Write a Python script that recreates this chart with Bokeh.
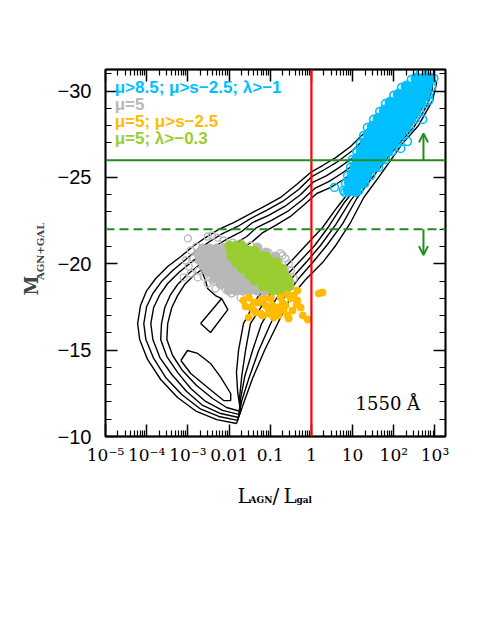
import math
from bokeh.plotting import figure
from bokeh.layouts import column, row
from bokeh.models import (Range1d, FixedTicker, CustomJSTickFormatter, LogAxis,
                          LinearAxis, Span, Label, Arrow, OpenHead)
from bokeh.embed import file_html
from bokeh.resources import INLINE

# ---------------- axis ticks ----------------
x_ticks = [1e-5, 1e-4, 1e-3, 1e-2, 1e-1, 1.0, 10.0, 100.0, 1000.0]
x_tick_labels = ["10⁻⁵", "10⁻⁴", "10⁻³", "0.01", "0.1", "1", "10", "10²", "10³"]
y_ticks = [-30, -25, -20, -15, -10]
y_tick_labels = ["−30", "−25", "−20", "−15", "−10"]

# ---------------- reference lines / arrows ----------------
lratio_cut = 1.0
m_bright = -26.0
m_faint = -22.0
arrow_lratio = 525.0
arrow_up_end = -27.55
arrow_down_end = -20.5

# ---------------- density contours (log10 L_AGN/L_gal, M) ----------------
c1_lx = [-1.82, -2.30, -2.79, -3.25, -3.66, -3.98, -4.17, -4.22, -4.15, -4.00, -3.78, -3.49, -3.17, -2.88,
         -2.57, -2.25, -1.89, -1.48, -1.11, -0.75, -0.36, -0.02, 0.27, 0.59, 0.95, 1.44, 2.00, 2.41, 2.70,
         2.89, 3.04, 2.94, 2.60, 2.21, 1.92, 1.63, 1.27, 0.95, 0.59, 0.27, -0.14, -0.51, -0.82, -1.14,
         -1.43, -1.65, -1.82]
c1_m = [-10.75, -10.98, -11.45, -12.26, -13.30, -14.46, -15.62, -16.54, -17.58, -18.45, -19.15, -19.84,
        -20.42, -21.00, -21.52, -21.99, -22.39, -22.91, -23.37, -23.84, -24.59, -25.29, -25.69, -26.15,
        -26.79, -27.95, -29.16, -29.92, -30.50, -30.84, -30.50, -29.45, -28.01, -26.96, -25.98, -25.00,
        -23.84, -22.39, -21.06, -20.07, -19.09, -18.05, -16.54, -14.98, -13.36, -11.91, -10.75]

c2_lx = [-1.79, -2.25, -2.71, -3.15, -3.54, -3.83, -4.02, -4.07, -4.00, -3.85, -3.64, -3.37, -3.08, -2.79,
         -2.47, -2.16, -1.79, -1.48, -1.09, -0.70, -0.31, 0.01, 0.32, 0.64, 1.00, 1.49, 2.04, 2.46, 2.75, 2.92,
         2.94, 2.82, 2.48, 2.09, 1.78, 1.46, 1.10, 0.76, 0.37, 0.05, -0.31, -0.68, -0.99, -1.28, -1.52,
         -1.69, -1.79]
c2_m = [-10.93, -11.16, -11.62, -12.43, -13.42, -14.52, -15.62, -16.54, -17.53, -18.28, -18.97, -19.61,
        -20.19, -20.77, -21.29, -21.75, -22.16, -22.62, -23.09, -23.61, -24.30, -25.05, -25.46, -25.92,
        -26.56, -27.72, -28.99, -29.74, -30.32, -30.61, -30.15, -29.22, -27.89, -26.85, -25.92, -24.94,
        -23.78, -22.33, -21.06, -20.13, -19.15, -17.99, -16.54, -14.98, -13.36, -12.08, -10.93]

c3_lx = [-1.77, -2.20, -2.64, -3.03, -3.39, -3.68, -3.85, -3.90, -3.83, -3.68, -3.49, -3.22, -2.93, -2.64,
         -2.35, -2.03, -1.69, -1.43, -1.04, -0.65, -0.26, 0.03, 0.37, 0.68, 1.05, 1.53, 2.09, 2.48, 2.77,
         2.85, 2.68, 2.34, 1.95, 1.63, 1.32, 0.95, 0.59, 0.22, -0.09, -0.46, -0.85, -1.21, -1.43, -1.62,
         -1.72, -1.77]
c3_m = [-11.10, -11.33, -11.80, -12.61, -13.59, -14.57, -15.62, -16.54, -17.47, -18.22, -18.86, -19.50,
        -20.07, -20.60, -21.00, -21.46, -21.87, -22.39, -22.80, -23.32, -24.01, -24.71, -25.11, -25.58,
        -26.21, -27.43, -28.76, -29.51, -30.09, -29.92, -28.99, -27.72, -26.68, -25.75, -24.82, -23.66,
        -22.27, -21.06, -20.19, -19.21, -17.99, -16.54, -14.98, -13.47, -12.20, -11.10]

c4_lx = [-1.74, -2.16, -2.57, -2.93, -3.25, -3.51, -3.66, -3.64, -3.56, -3.42, -3.25, -3.01, -2.74, -2.45,
         -2.16, -1.89, -1.57, -1.33, -0.97, -0.58, -0.21, 0.08, 0.42, 0.73, 1.10, 1.58, 2.14, 2.51, 2.75,
         2.55, 2.21, 1.83, 1.49, 1.17, 0.78, 0.42, 0.08, -0.24, -0.63, -1.09, -1.48, -1.60, -1.69, -1.74,
         -1.74]
c4_m = [-11.27, -11.51, -12.03, -12.78, -13.71, -14.63, -15.62, -16.54, -17.47, -18.22, -18.80, -19.38,
        -19.90, -20.36, -20.71, -21.12, -21.58, -22.10, -22.51, -23.03, -23.72, -24.36, -24.76, -25.23,
        -25.86, -27.08, -28.47, -29.22, -29.74, -28.76, -27.54, -26.50, -25.58, -24.65, -23.49, -22.16,
        -21.06, -20.25, -19.26, -17.99, -16.54, -14.98, -13.53, -12.37, -11.27]

c5_lx = [-1.72, -2.06, -2.40, -2.79, -3.13, -3.37, -3.51, -3.49, -3.39, -3.25, -3.08, -2.86, -2.59, -2.30,
         -1.99, -1.72, -1.43, -1.18, -0.87, -0.51, -0.17, 0.13, 0.47, 0.78, 1.15, 1.63, 2.17, 2.51, 2.68,
         2.43, 2.09, 1.70, 1.34, 1.00, 0.64, 0.27, -0.14, -0.43, -0.85, -1.31, -1.65, -1.77, -1.82, -1.79,
         -1.72]
c5_m = [-11.45, -11.68, -12.20, -12.95, -13.82, -14.69, -15.62, -16.54, -17.47, -18.16, -18.80, -19.32,
        -19.79, -20.19, -20.42, -20.83, -21.29, -21.81, -22.22, -22.74, -23.43, -24.07, -24.42, -24.88,
        -25.52, -26.73, -28.12, -28.88, -29.28, -28.47, -27.37, -26.33, -25.40, -24.42, -23.32, -22.10,
        -21.06, -20.31, -19.32, -18.05, -16.54, -14.98, -13.71, -12.55, -11.45]

isle1_lx = [-2.69, -2.45, -2.03, -2.18, -2.69]
isle1_m = [-16.54, -16.02, -17.35, -17.99, -16.54]
isle2_lx = [-3.17, -3.01, -2.76, -2.45, -2.20, -1.96, -1.96, -2.13, -2.52, -2.93, -3.17]
isle2_m = [-14.40, -14.98, -14.81, -14.23, -13.42, -12.49, -12.08, -12.08, -12.84, -13.65, -14.40]
c6_lx = [-2.69, -2.57, -2.52, -2.33, -2.18]
c6_m = [-19.73, -19.03, -18.57, -18.16, -17.99]

# ---------------- mu=5 (grey open circles) ----------------
grey_core_lx = [-2.64, -2.47, -2.30, -2.13,
                -2.74, -2.57, -2.40, -2.23, -2.06,
                -2.71, -2.54, -2.37, -2.20, -2.03, -1.86,
                -2.62, -2.45, -2.28, -2.11, -1.94, -1.77, -1.60,
                -2.50, -2.33, -2.16, -1.99, -1.82, -1.65, -1.48,
                -2.35, -2.18, -2.01, -1.84, -1.67, -1.50, -1.33,
                -2.20, -2.03, -1.86, -1.69, -1.52, -1.35, -1.19,
                -2.01, -1.84, -1.67, -1.50, -1.33, -1.14,
                -0.99, -0.82, -0.67, -0.87, -1.11, -1.31]
grey_core_m = [-20.89, -20.89, -20.89, -20.89,
               -20.54, -20.54, -20.54, -20.54, -20.54,
               -20.19, -20.19, -20.19, -20.19, -20.19, -20.19,
               -19.84, -19.84, -19.84, -19.84, -19.84, -19.84, -19.84,
               -19.50, -19.50, -19.50, -19.50, -19.50, -19.50, -19.50,
               -19.15, -19.15, -19.15, -19.15, -19.15, -19.15, -19.15,
               -18.80, -18.80, -18.80, -18.80, -18.80, -18.80, -18.80,
               -18.45, -18.45, -18.45, -18.45, -18.45, -18.45,
               -20.08, -19.84, -19.61, -20.42, -20.65, -20.95]
grey_lx = [-3.00, -2.52, -2.42, -2.28, -2.13, -2.79, -2.93, -2.69, -3.05, -2.86, -2.98, -2.93, -3.10, -2.76,
           -2.74, -1.91, -1.72, -1.48, -1.31, -1.04, -0.75, -0.70, -0.63, -0.80, -0.55, -0.50, -0.58, -0.43,
           -2.40, -2.52, -2.08, -1.94, -1.60, -1.19, -0.99, -1.72, -2.33, -2.62]
grey_m = [-21.47, -21.58, -21.64, -21.52, -21.35, -21.00, -20.77, -20.77, -20.19, -20.31, -19.84, -19.44,
          -19.21, -19.21, -19.61, -21.23, -21.18, -21.06, -20.77, -20.65, -20.60, -20.48, -20.31, -20.08,
          -20.02, -19.61, -19.21, -19.15, -19.03, -18.86, -18.51, -18.28, -18.45, -18.16, -18.11, -18.05,
          -18.57, -19.26]

# ---------------- mu=5; lambda>-0.3 (green dots) ----------------
green_lx = [-1.99, -1.84, -1.69,
            -1.96, -1.82, -1.67, -1.52, -1.38,
            -1.94, -1.79, -1.65, -1.50, -1.35, -1.21, -1.09,
            -1.84, -1.69, -1.55, -1.40, -1.26, -1.11, -0.97, -0.85,
            -1.69, -1.55, -1.40, -1.26, -1.11, -0.97, -0.82, -0.72,
            -1.52, -1.38, -1.23, -1.09, -0.94, -0.80, -0.65,
            -1.38, -1.23, -1.09, -0.94, -0.80, -0.65, -0.55,
            -1.19, -1.04, -0.89, -0.75, -0.60, -0.53,
            -0.94, -0.80, -0.65]
green_m = [-21.06, -21.06, -21.06,
           -20.77, -20.77, -20.77, -20.77, -20.77,
           -20.42, -20.42, -20.42, -20.42, -20.42, -20.42, -20.42,
           -20.08, -20.08, -20.08, -20.08, -20.08, -20.08, -20.08, -20.08,
           -19.73, -19.73, -19.73, -19.73, -19.73, -19.73, -19.73, -19.73,
           -19.38, -19.38, -19.38, -19.38, -19.38, -19.38, -19.38,
           -19.03, -19.03, -19.03, -19.03, -19.03, -19.03, -19.03,
           -18.69, -18.69, -18.69, -18.69, -18.69, -18.69,
           -18.45, -18.45, -18.45]

# ---------------- mu=5; mu>s-2.5 (orange dots) ----------------
orange_lx = [-1.65, -1.48, -1.52, -1.40, -1.28, -1.23, -1.06, -0.94, -0.82, -0.70, -0.68, -0.55, -0.50, -0.43,
             -0.34, -0.34, -0.26, -0.21, -0.09, 0.18, 0.27, -0.92, -0.80, -1.52, -1.35, -1.11, -0.99, -0.82,
             -0.58, -1.19, -1.40, -1.35, -1.16, -1.04, -0.94, -0.63, -0.46, -0.36, -1.60, -0.75, -0.58]
orange_m = [-17.88, -17.47, -16.89, -17.30, -17.76, -17.12, -17.47, -17.18, -17.47, -17.76, -17.30, -16.83,
            -17.99, -18.16, -17.88, -18.45, -17.47, -17.01, -16.77, -18.28, -18.34, -16.89, -17.01, -18.05,
            -17.76, -17.59, -17.99, -17.30, -17.01, -17.01, -17.76, -17.18, -17.99, -17.12, -17.59, -17.59,
            -17.30, -17.64, -17.53, -18.05, -18.22]

# ---------------- mu>8.5; mu>s-2.5; lambda>-1 (blue open circles) ----------------
blue_core_lx = [0.90, 1.07, 0.93, 1.10, 1.22, 1.00, 1.17, 1.34, 1.07, 1.24, 1.41, 1.53,
                1.12, 1.29, 1.46, 1.63, 1.70, 1.22, 1.39, 1.56, 1.73, 1.85,
                1.32, 1.49, 1.66, 1.83, 2.00, 1.39, 1.56, 1.73, 1.90, 2.07, 2.14,
                1.49, 1.66, 1.83, 2.00, 2.17, 2.29, 1.63, 1.80, 1.97, 2.14, 2.29, 2.41,
                1.78, 1.95, 2.12, 2.29, 2.43, 2.53, 1.92, 2.09, 2.26, 2.43, 2.58, 2.65,
                2.12, 2.29, 2.46, 2.60, 2.75, 2.31, 2.48, 2.65, 2.80, 2.55, 2.72, 2.87]
blue_core_m = [-24.24, -24.24, -24.71, -24.71, -24.71, -25.17, -25.17, -25.17, -25.63, -25.63, -25.63, -25.63,
               -26.10, -26.10, -26.10, -26.10, -26.10, -26.56, -26.56, -26.56, -26.56, -26.56,
               -27.02, -27.02, -27.02, -27.02, -27.02, -27.49, -27.49, -27.49, -27.49, -27.49, -27.49,
               -27.95, -27.95, -27.95, -27.95, -27.95, -27.95, -28.41, -28.41, -28.41, -28.41, -28.41, -28.41,
               -28.88, -28.88, -28.88, -28.88, -28.88, -28.88, -29.34, -29.34, -29.34, -29.34, -29.34, -29.34,
               -29.80, -29.80, -29.80, -29.80, -29.80, -30.27, -30.27, -30.27, -30.27, -30.73, -30.73, -30.73]
blue_lx = [0.81, 0.83, 0.88, 0.95, 1.00, 1.10, 1.19, 1.27, 1.36, 1.51, 1.66, 1.80, 2.00, 2.19, 2.43, 2.65,
           1.15, 1.29, 1.44, 1.63, 1.80, 1.95, 2.09, 2.24, 2.38, 2.50, 2.63, 2.75, 2.84, 2.92, 2.97, 2.89,
           0.56, 1.07, 2.17, 2.33, 2.70, 2.85, 0.78]
blue_m = [-24.13, -24.65, -25.11, -25.58, -26.04, -26.50, -26.97, -27.43, -27.89, -28.36, -28.82, -29.28,
          -29.75, -30.21, -30.67, -31.02, -24.24, -24.65, -25.11, -25.58, -26.04, -26.50, -26.97, -27.43,
          -27.89, -28.36, -28.82, -29.28, -29.75, -30.21, -30.73, -31.19, -24.42, -24.13, -26.68, -27.08,
          -28.36, -29.46, -24.24]

legend_lines = ["μ>8.5; μ>s−2.5; λ>−1", "μ=5", "μ=5; μ>s−2.5", "μ=5; λ>−0.3"]

BLUE = "#00BFFF"
GREY = "#B8B8B8"
ORANGE = "#FFBB00"
GREEN = "#9ACD32"
DGREEN = "#228B22"


def lin(v):
    return [10.0 ** a for a in v]


def text_panel(w, h):
    f = figure(width=w, height=h, x_range=Range1d(0, w), y_range=Range1d(h, 0),
               x_axis_location=None, y_axis_location=None, output_backend="svg",
               toolbar_location=None, min_border_left=0, min_border_right=0,
               min_border_top=0, min_border_bottom=0)
    f.grid.visible = False
    f.outline_line_color = None
    f.background_fill_color = "white"
    f.border_fill_color = "white"
    return f


p = figure(width=427, height=476, x_axis_type="log",
           x_range=Range1d(1e-5, 1800.0), y_range=Range1d(-10.0, -31.25),
           output_backend="svg", toolbar_location=None,
           min_border_left=55, min_border_right=32, min_border_top=69, min_border_bottom=40)
p.grid.visible = False
p.outline_line_color = "black"
p.outline_line_width = 1.8
p.background_fill_color = "white"
p.border_fill_color = "white"
bottom = p.below[0]
left = p.left[0]

x_minor = [d * 10.0 ** k for k in range(-5, 4) for d in range(2, 10)]
xt = FixedTicker(ticks=x_ticks, minor_ticks=x_minor)
yt = FixedTicker(ticks=y_ticks, minor_ticks=list(range(-31, -9)))
xfmt = CustomJSTickFormatter(args=dict(xlabs=x_tick_labels),
                             code="return xlabs[Math.round(Math.log10(tick)) + 5];")
yfmt = CustomJSTickFormatter(args=dict(ylabs=y_tick_labels, yvals=y_ticks),
                             code="return ylabs[yvals.indexOf(Math.round(tick))];")

top = LogAxis(ticker=xt, formatter=CustomJSTickFormatter(code="return '';"))
right = LinearAxis(ticker=yt, formatter=CustomJSTickFormatter(code="return '';"))
p.add_layout(top, "above")
p.add_layout(right, "right")

bottom.ticker = xt
bottom.formatter = xfmt
left.ticker = yt
left.formatter = yfmt

for ax in [bottom, top, left, right]:
    ax.major_tick_in = 12
    ax.major_tick_out = 0
    ax.minor_tick_in = 6
    ax.minor_tick_out = 0
    ax.major_tick_line_width = 1.5
    ax.minor_tick_line_width = 1.2
    ax.axis_line_width = 1.5
    ax.major_tick_line_color = "black"
    ax.minor_tick_line_color = "black"

bottom.major_label_text_font = "DejaVu Serif"
bottom.major_label_text_font_size = "17px"
bottom.major_label_text_color = "black"
bottom.major_label_standoff = 8
left.major_label_text_font = "Liberation Sans"
left.major_label_text_font_size = "20px"
left.major_label_text_color = "black"
left.major_label_standoff = 14
top.major_label_text_font_size = "1px"
right.major_label_text_font_size = "1px"

# contours
for cx, cy in [(c1_lx, c1_m), (c2_lx, c2_m), (c3_lx, c3_m), (c4_lx, c4_m), (c5_lx, c5_m),
               (isle1_lx, isle1_m), (isle2_lx, isle2_m), (c6_lx, c6_m)]:
    p.line(lin(cx), cy, line_color="black", line_width=1.4)

# scatter samples
p.scatter(lin(grey_core_lx), grey_core_m, marker="circle", size=9, fill_color=GREY, line_color=GREY, line_width=1)
p.scatter(lin(grey_lx), grey_m, marker="circle", size=7, fill_color=None, line_color=GREY, line_width=1.3)
p.scatter(lin(green_lx), green_m, marker="circle", size=9, fill_color=GREEN, line_color=GREEN, line_width=1)
p.scatter(lin(orange_lx), orange_m, marker="circle", size=7, fill_color=ORANGE, line_color=ORANGE, line_width=1)
p.scatter(lin(blue_core_lx), blue_core_m, marker="circle", size=11, fill_color=BLUE, line_color=BLUE, line_width=1)
p.scatter(lin(blue_lx), blue_m, marker="circle", size=8, fill_color=None, line_color=BLUE, line_width=1.6)

# reference lines
p.add_layout(Span(location=lratio_cut, dimension="height", line_color="red", line_width=2.2))
p.add_layout(Span(location=m_bright, dimension="width", line_color=DGREEN, line_width=2))
p.add_layout(Span(location=m_faint, dimension="width", line_color=DGREEN, line_width=2, line_dash="9 5"))
p.add_layout(Arrow(end=OpenHead(size=9, line_color=DGREEN, line_width=2),
                   x_start=arrow_lratio, y_start=m_bright, x_end=arrow_lratio, y_end=arrow_up_end,
                   line_color=DGREEN, line_width=2))
p.add_layout(Arrow(end=OpenHead(size=9, line_color=DGREEN, line_width=2),
                   x_start=arrow_lratio, y_start=m_faint, x_end=arrow_lratio, y_end=arrow_down_end,
                   line_color=DGREEN, line_width=2))

# legend texts
for txt, col, ym in zip(legend_lines, [BLUE, GREY, ORANGE, GREEN], [-30.21, -29.22, -28.24, -27.26]):
    p.add_layout(Label(x=1.67e-5, y=ym, text=txt, text_color=col, text_font="Liberation Sans",
                       text_font_style="bold", text_font_size="17px", text_baseline="middle"))

p.add_layout(Label(x=11.8, y=-11.91, text="1550 Å", text_font="DejaVu Serif", text_font_size="18px",
                   text_color="black", text_baseline="alphabetic"))

# y axis title panel: M_AGN+GAL (rotated)
yfig = text_panel(50, 476)
yfig.add_layout(Label(x=31, y=293, text="M", text_font="DejaVu Serif", text_font_size="18px",
                      text_font_style="bold", angle=math.pi / 2, text_align="left", text_baseline="middle"))
yfig.add_layout(Label(x=40, y=273, text="AGN+GAL", text_font="DejaVu Serif", text_font_size="10px",
                      text_font_style="bold", angle=math.pi / 2, text_align="left", text_baseline="middle"))

# x axis title panel: L_AGN / L_gal
xfig = text_panel(477, 60)
for txt, xp, yp, fs, st in [("L", 237, 19, "20px", "normal"), ("AGN", 249, 23, "9px", "bold"),
                            ("/", 272, 19, "20px", "normal"), ("L", 283, 19, "20px", "normal"),
                            ("gal", 296, 23, "9px", "bold")]:
    xfig.add_layout(Label(x=xp, y=yp, text=txt, text_font="DejaVu Serif", text_font_size=fs,
                          text_font_style=st, text_color="black", text_baseline="alphabetic"))

layout = column(row(yfig, p), xfig)
open("out.html", "w").write(file_html(layout, INLINE))
